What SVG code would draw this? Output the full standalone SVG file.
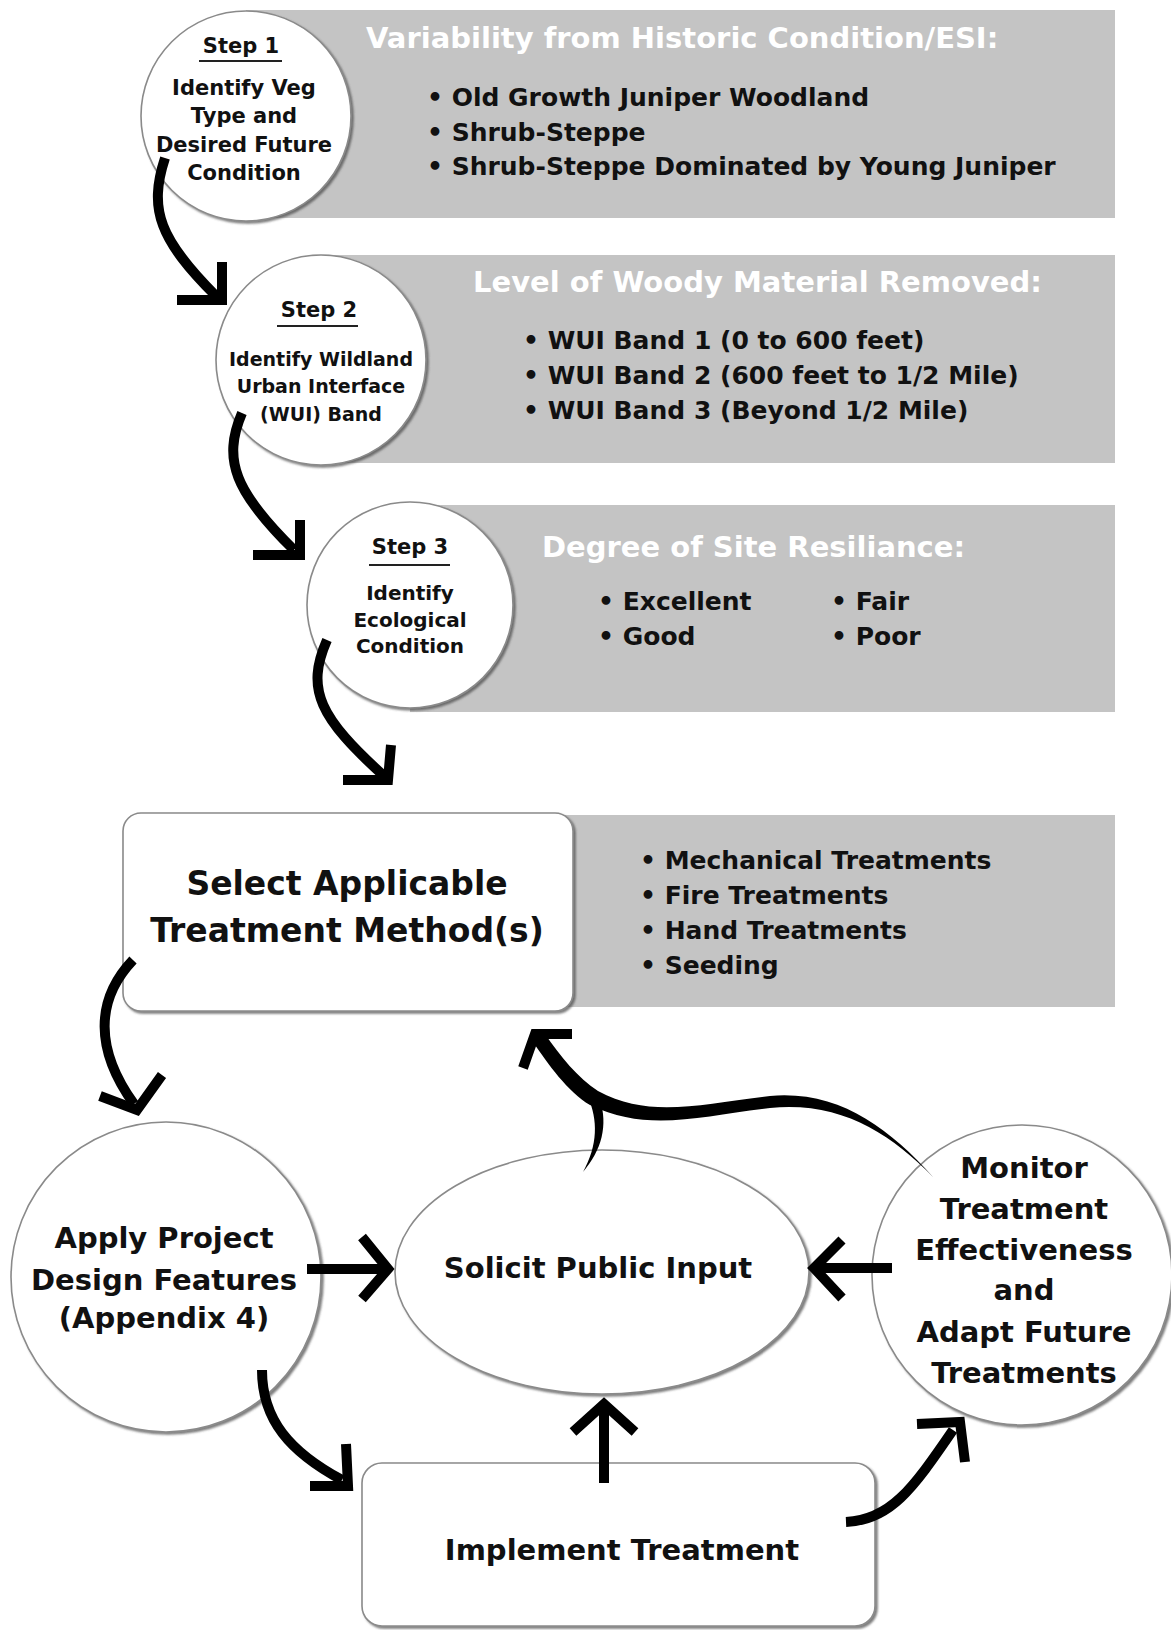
<svg xmlns="http://www.w3.org/2000/svg" width="1171" height="1630" viewBox="0 0 1171 1630">
<defs>
<style>
.band{fill:#c4c4c4}
.node{fill:#fff;stroke:#8a8a8a;stroke-width:1.6;filter:url(#sh)}
.t{font-family:"DejaVu Sans","Liberation Sans",sans-serif;font-weight:bold;fill:#111}
.ttl{font-family:"DejaVu Sans","Liberation Sans",sans-serif;font-weight:bold;fill:#fff;font-size:29px}
.b{font-size:25px}
.s{font-size:21px}
.m{font-size:29px}
.c{text-anchor:middle}
.ul{stroke:#222;stroke-width:2}
.ar{fill:none;stroke:#000;stroke-width:10}
.hd{fill:none;stroke:#000;stroke-width:10;stroke-linejoin:miter;stroke-linecap:butt}
</style>
<filter id="sh" x="-10%" y="-10%" width="125%" height="125%">
<feDropShadow dx="2" dy="2" stdDeviation="1.2" flood-color="#444" flood-opacity="0.7"/>
</filter>
</defs>
<rect width="1171" height="1630" fill="#fff"/>

<g id="bands">
<rect class="band" x="246" y="10" width="869" height="208"/>
<rect class="band" x="321" y="255" width="794" height="208"/>
<rect class="band" x="410" y="505" width="705" height="207"/>
<rect class="band" x="500" y="815" width="615" height="192"/>
</g>

<g id="band1-text">
<text class="ttl" x="366" y="48">Variability from Historic Condition/ESI:</text>
<text class="t b" x="427" y="106">• Old Growth Juniper Woodland</text>
<text class="t b" x="427" y="141">• Shrub-Steppe</text>
<text class="t b" x="427" y="175">• Shrub-Steppe Dominated by Young Juniper</text>
</g>
<g id="band2-text">
<text class="ttl" x="473" y="292">Level of Woody Material Removed:</text>
<text class="t b" x="523" y="349">• WUI Band 1 (0 to 600 feet)</text>
<text class="t b" x="523" y="384">• WUI Band 2 (600 feet to 1/2 Mile)</text>
<text class="t b" x="523" y="419">• WUI Band 3 (Beyond 1/2 Mile)</text>
</g>
<g id="band3-text">
<text class="ttl" x="542" y="557">Degree of Site Resiliance:</text>
<text class="t b" x="598" y="610">• Excellent</text>
<text class="t b" x="598" y="645">• Good</text>
<text class="t b" x="831" y="610">• Fair</text>
<text class="t b" x="831" y="645">• Poor</text>
</g>
<g id="band4-text">
<text class="t b" x="640" y="869">• Mechanical Treatments</text>
<text class="t b" x="640" y="904">• Fire Treatments</text>
<text class="t b" x="640" y="939">• Hand Treatments</text>
<text class="t b" x="640" y="974">• Seeding</text>
</g>

<g id="step1">
<circle class="node" cx="246" cy="116" r="105"/>
<text class="t s c" x="241" y="53">Step 1</text>
<line class="ul" x1="199" y1="61" x2="282" y2="61"/>
<text class="t s c" x="244" y="95">Identify Veg</text>
<text class="t s c" x="244" y="123">Type and</text>
<text class="t s c" x="244" y="152">Desired Future</text>
<text class="t s c" x="244" y="180">Condition</text>
</g>

<g id="step2">
<circle class="node" cx="321" cy="360" r="105"/>
<text class="t s c" x="319" y="317">Step 2</text>
<line class="ul" x1="277" y1="326" x2="358" y2="326"/>
<text class="t c" style="font-size:19px" x="321" y="366">Identify Wildland</text>
<text class="t c" style="font-size:19px" x="321" y="393">Urban Interface</text>
<text class="t c" style="font-size:19px" x="321" y="421">(WUI) Band</text>
</g>

<g id="step3">
<circle class="node" cx="410" cy="605" r="103"/>
<text class="t s c" x="410" y="554">Step 3</text>
<line class="ul" x1="369" y1="565" x2="450" y2="565"/>
<text class="t c" style="font-size:20px" x="410" y="600">Identify</text>
<text class="t c" style="font-size:20px" x="410" y="627">Ecological</text>
<text class="t c" style="font-size:20px" x="410" y="653">Condition</text>
</g>

<g id="select">
<rect class="node" x="123" y="813" width="450" height="198" rx="18"/>
<text class="t c" style="font-size:33px" x="347" y="895">Select Applicable</text>
<text class="t c" style="font-size:33px" x="347" y="942">Treatment Method(s)</text>
</g>

<g id="apply">
<circle class="node" cx="166" cy="1277" r="155"/>
<text class="t m c" x="164" y="1248">Apply Project</text>
<text class="t m c" x="164" y="1290">Design Features</text>
<text class="t m c" x="164" y="1328">(Appendix 4)</text>
</g>

<g id="solicit">
<ellipse class="node" cx="602" cy="1272" rx="207" ry="122"/>
<text class="t m c" x="598" y="1278">Solicit Public Input</text>
</g>

<g id="monitor">
<circle class="node" cx="1022" cy="1275" r="150"/>
<text class="t m c" x="1024" y="1178">Monitor</text>
<text class="t m c" x="1024" y="1219">Treatment</text>
<text class="t m c" x="1024" y="1260">Effectiveness</text>
<text class="t m c" x="1024" y="1300">and</text>
<text class="t m c" x="1024" y="1342">Adapt Future</text>
<text class="t m c" x="1024" y="1383">Treatments</text>
</g>

<g id="implement">
<rect class="node" x="362" y="1463" width="513" height="163" rx="20"/>
<text class="t m c" x="622" y="1560">Implement Treatment</text>
</g>

<g id="connectors">
<path class="ar" d="M165,158 C148,210 160,240 216,296"/>
<polyline class="hd" points="222,262 222,300 177,300"/>
<path class="ar" d="M242,413 C222,460 235,492 294,550"/>
<polyline class="hd" points="300,520 300,555 253,555"/>
<path class="ar" d="M327,640 C305,690 320,718 384,776"/>
<polyline class="hd" points="391,745 388,780 343,780"/>
<path class="ar" d="M133,960 C95,1000 95,1050 134,1104"/>
<polyline class="hd" points="100,1096 137,1110 162,1075"/>
<line class="ar" x1="307" y1="1269" x2="384" y2="1269"/>
<polyline class="hd" points="362,1237 388,1269 362,1299"/>
<line class="ar" x1="892" y1="1268" x2="818" y2="1268"/>
<polyline class="hd" points="842,1240 814,1268 842,1298"/>
<line class="ar" x1="604" y1="1483" x2="604" y2="1408"/>
<polyline class="hd" points="573,1432 604,1404 635,1432"/>
<path class="ar" d="M262,1370 C262,1420 290,1452 342,1480"/>
<polyline class="hd" points="346,1444 348,1486 310,1486"/>
<path class="ar" d="M846,1522 C890,1520 912,1490 953,1430"/>
<polyline class="hd" points="917,1424 960,1422 965,1462"/>
<path fill="#000" d="M933,1177 C888,1127 838,1090 770,1096 C700,1104 650,1119 598,1091 C578,1078 560,1056 545,1034 L533,1042 C548,1064 568,1092 590,1105 C648,1133 700,1116 770,1108 C840,1101 890,1133 933,1177 Z"/>
<path fill="#000" d="M583,1172 C598,1145 598,1120 588,1097 L600,1100 C608,1125 602,1150 583,1172 Z"/>
<polyline class="hd" points="572,1034 535,1034 523,1068"/>
</g>
</svg>
